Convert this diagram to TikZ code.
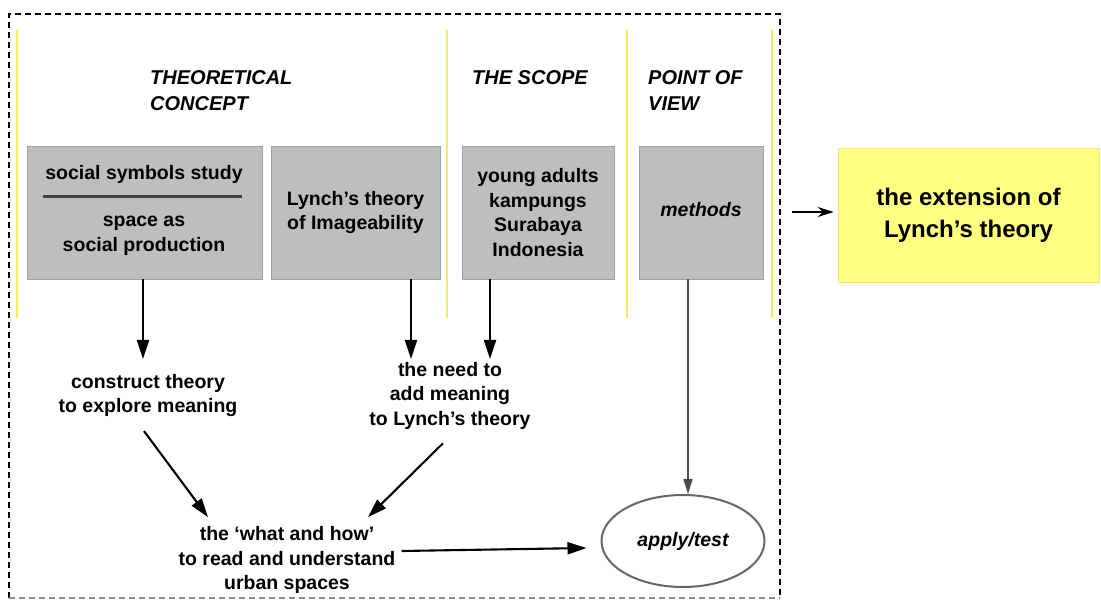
\documentclass[tikz,border=0pt]{standalone}
\usepackage{fontspec}
\setmainfont{Liberation Sans}
\usetikzlibrary{arrows.meta,shapes.geometric}
\definecolor{boxgrey}{RGB}{190,190,190}
\definecolor{boxedge}{RGB}{160,160,160}
\definecolor{extyellow}{RGB}{255,255,128}
\definecolor{coltrim}{RGB}{245,240,90}
\begin{document}
\begin{tikzpicture}[x=1pt,y=-1pt,
  every node/.style={font=\fontsize{19.5}{24.5}\selectfont\bfseries, align=center},
  greybox/.style={draw=boxedge, fill=boxgrey, line width=0.8pt, minimum height=133pt, inner sep=0pt},
  heading/.style={font=\fontsize{20}{26}\selectfont\bfseries\itshape, align=left, anchor=west, inner sep=0pt},
  plain/.style={inner sep=11pt},
  arr/.style={line width=2.1pt, -{Triangle[length=19pt,width=12pt]}},
  thinarr/.style={line width=1.6pt, draw=black!70, -{Triangle[length=15pt,width=9pt]}, fill=black!70},
  colline/.style={coltrim, line width=2.5pt},
  frame/.style={line width=2pt, dash pattern=on 6pt off 4pt}
]
\useasboundingbox (0,0) rectangle (1101,601);

% outer dashed frame
\draw[frame] (9,598) -- (9,14) -- (780,14) -- (780,598);
\draw[frame, black!45, line width=1.2pt] (9,598) -- (780,598);

% yellow column separators
\foreach \xx in {17,447,627,772} \draw[colline] (\xx,30) -- (\xx,318);

% column headings
\node[heading] (hconcept) at (150,91) {THEORETICAL\\CONCEPT};
\node[heading] (hscope) at (472,78) {THE SCOPE};
\node[heading] (hview) at (648,91) {POINT OF\\VIEW};

% grey boxes
\node[greybox, minimum width=235pt] (social) at (144.5,212.5) {};
\node (socialtop) at (144,174) {social symbols study};
\node (socialbot) at (144,236) {space as\\social production};
\draw[line width=3pt, black!75] (43,197) -- (242,197);

\node[greybox, minimum width=169pt] (lynch) at (355.5,212.5) {\raisebox{3pt}{\begin{tabular}{@{}c@{}}Lynch’s theory\\of Imageability\end{tabular}}};
\node[greybox, minimum width=152pt] (scope) at (538,212.5) {young adults\\kampungs\\Surabaya\\Indonesia};
\node[greybox, minimum width=124pt] (methods) at (701,212.5) {\raisebox{7pt}{\itshape methods}};

% result box
\node[fill=extyellow, draw=extyellow!80!orange, line width=0.5pt, minimum width=261pt, minimum height=134pt, inner sep=0pt,
      font=\fontsize{24}{32}\selectfont\bfseries] (ext) at (968.5,215) {the extension of\\Lynch’s theory};
\coordinate (extstart) at (792,212);
\draw[line width=1.9pt, -{Stealth[length=16pt,width=10pt]}, shorten >=4pt] (extstart) -- (extstart -| ext.west);

% middle texts
\node[plain] (construct) at (148,395.5) {construct theory\\to explore meaning};
\node[plain] (need) at (450,395.5) {the need to\\add meaning\\to Lynch’s theory};
\node[plain, inner sep=6pt] (what) at (287,560) {the ‘what and how’\\to read and understand\\urban spaces};
\node[ellipse, draw=black!60, line width=2pt, minimum width=163pt, minimum height=92pt, inner sep=0pt,
      font=\fontsize{19.5}{24}\selectfont\bfseries\itshape] (apply) at (683,541) {apply/test};

% connectors
\draw[arr] ([xshift=-1.5pt]social.south) -- ([xshift=-1.5pt]social.south |- 0,359);
\draw[arr] ([xshift=55.5pt]lynch.south) -- ([xshift=55.5pt]lynch.south |- 0,359);
\draw[arr] ([xshift=-48pt]scope.south) -- ([xshift=-48pt]scope.south |- 0,359);
\draw[thinarr] ([xshift=-13pt]methods.south) -- ([xshift=-13pt]methods.south |- apply.north);
\draw[arr] ([xshift=-4pt,yshift=-3pt]construct.south) -- ([xshift=-79pt,yshift=3pt]what.north);
\draw[arr] ([xshift=-7pt,yshift=-3pt]need.south) -- ([xshift=81pt,yshift=3pt]what.north);
\draw[arr] ([yshift=9pt]what.east) -- ([xshift=-14pt,yshift=-7pt]apply.west);
\end{tikzpicture}
\end{document}
